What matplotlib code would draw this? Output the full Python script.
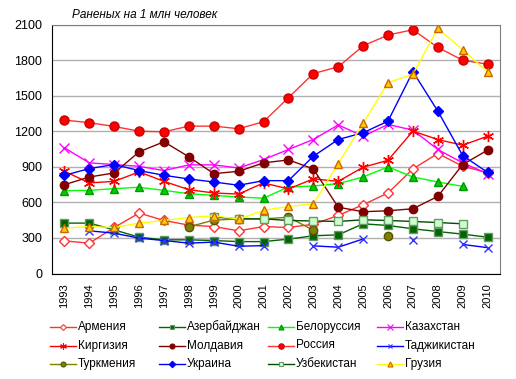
import numpy as np
import matplotlib
matplotlib.use("Agg")
import matplotlib.pyplot as plt
from matplotlib.lines import Line2D

nan = np.nan

years = [str(y) for y in range(1993, 2011)]

# injured per 1 mln people
armenia = [275, 256, 388, 510, 447, 408, 396, 360, 396, 388, 415, 490, 580, 679, 882, 1012, 905, 850]
azerbaijan = [425, 425, 368, 306, 284, 284, 278, 269, 269, 290, 318, 326, 419, 405, 377, 354, 332, 306]
belarus = [699, 701, 716, 727, 701, 673, 659, 645, 635, 730, 738, 758, 814, 899, 814, 772, 735, nan]
kazakhstan = [1060, 933, 919, 904, 868, 916, 916, 890, 961, 1046, 1130, 1253, 1158, 1257, 1209, 1046, 933, 842]
kyrgyzstan = [862, 764, 777, 857, 777, 707, 679, 670, 764, 713, 798, 777, 896, 955, 1201, 1130, 1082, 1158]
moldova = [749, 814, 848, 1026, 1111, 984, 842, 862, 933, 958, 882, 559, 521, 529, 546, 650, 919, 1040]
russia = [1294, 1272, 1240, 1200, 1195, 1243, 1243, 1221, 1280, 1483, 1686, 1743, 1920, 2011, 2056, 1907, 1799, 1765]
tajikistan = [nan, 360, 340, 298, 278, 256, 265, 230, 235, nan, 233, 222, 291, nan, 281, nan, 245, 218]
turkmenistan = [nan, nan, nan, nan, nan, 394, 450, 460, 460, 475, 365, nan, nan, 320, nan, nan, nan, nan]
ukraine = [828, 885, 919, 868, 828, 797, 772, 744, 783, 783, 989, 1130, 1187, 1285, 1703, 1370, 995, 853]
uzbekistan = [nan, nan, nan, nan, nan, nan, 476, 461, 461, 447, 443, 439, 453, 447, 439, 430, 419, nan]
georgia = [383, 396, 388, 425, 447, 472, 487, 459, 532, 566, 586, 927, 1266, 1610, 1681, 2067, 1887, 1700]

# name, data, line color, marker, face, edge, size
series = [
    ("Армения", armenia, "#FF3333", "D", "white", "#FF3333", 5),
    ("Азербайджан", azerbaijan, "#006600", "s", "#006600", "#669966", 6),
    ("Белоруссия", belarus, "#00FF00", "^", "#00CC00", "#009900", 6),
    ("Казахстан", kazakhstan, "#FF00FF", "x", "#FF00FF", "#FF00FF", 7),
    ("Киргизия", kyrgyzstan, "#FF0000", (6, 2, 0), "#FF0000", "#FF0000", 8),
    ("Молдавия", moldova, "#800000", "o", "#800000", "#800000", 6),
    ("Россия", russia, "#FF3333", "o", "#FF0000", "#CC0000", 6.5),
    ("Таджикистан", tajikistan, "#0000FF", "x", "#3333FF", "#3333FF", 6),
    ("Туркмения", turkmenistan, "#808000", "o", "#808000", "#555500", 6),
    ("Украина", ukraine, "#0000FF", "D", "#0000FF", "#0000FF", 5.5),
    ("Узбекистан", uzbekistan, "#004D00", "s", "#CCFFCC", "#669966", 6),
    ("Грузия", georgia, "#FFFF00", "^", "#FFCC00", "#CC6600", 6),
]

plt.rcParams['font.family'] = ['Liberation Sans', 'DejaVu Sans']

W, H = 516, 379
fig = plt.figure(figsize=(W / 100, H / 100), dpi=100)
ax = fig.add_axes([52 / W, 1 - 273.5 / H, 448 / W, 249 / H])

x = np.arange(len(years))
for name, vals, col, mk, fc, ec, ms in series:
    ax.plot(x, vals, color=col, lw=1, marker=mk, markersize=ms,
            markerfacecolor=fc, markeredgecolor=ec, markeredgewidth=1,
            label=name)

ax.set_xlim(-0.5, len(years) - 0.5)
ax.set_ylim(0, 2100)
ax.set_yticks(range(0, 2101, 300))
ax.set_xticks(x)
ax.set_xticklabels(years, rotation=90, fontsize=8)
ax.tick_params(axis='y', labelsize=9, length=0, pad=7)
ax.tick_params(axis='x', length=0, pad=7)
ax.grid(axis='y', color='#B0B0B0', lw=1)
ax.set_axisbelow(True)
for s in ['top', 'right']:
    ax.spines[s].set_color('#808080')
for s in ['left', 'bottom']:
    ax.spines[s].set_color('black')

fig.text(72 / W, 1 - 15 / H, "Раненых на 1 млн человек", fontsize=8.5,
         style='italic', va='center', ha='left')

# legend drawn by hand: 4 equal columns, filled row by row
col_x = [50, 159, 268, 377]
row_y = [327, 345.5, 364]
for i, (name, vals, col, mk, fc, ec, ms) in enumerate(series):
    lx = col_x[i % 4]
    ly = 1 - row_y[i // 4] / H
    fig.add_artist(Line2D([lx / W, (lx + 26) / W], [ly, ly], color=col, lw=1))
    fig.add_artist(Line2D([(lx + 13) / W], [ly], marker=mk, markersize=ms * 0.6,
                          markerfacecolor=fc, markeredgecolor=ec,
                          markeredgewidth=0.8, lw=0))
    fig.text((lx + 28) / W, ly + 1.5 / H, name, fontsize=8.5,
             va='center_baseline', ha='left')

fig.savefig("out.png", dpi=100)
